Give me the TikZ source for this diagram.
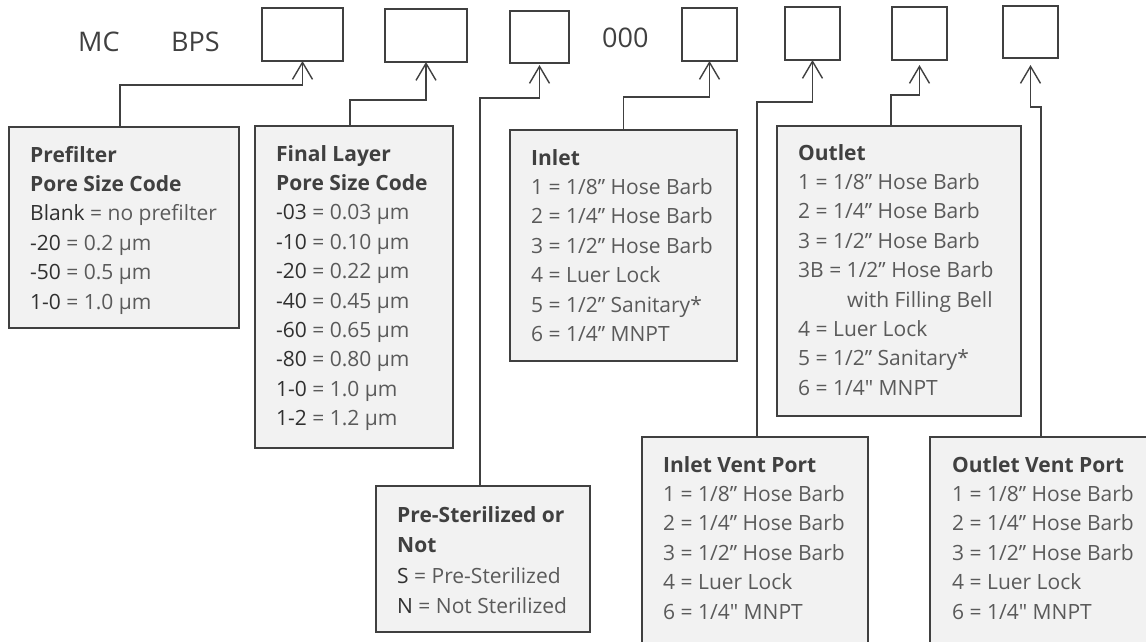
\documentclass[tikz,border=0pt]{standalone}
\usepackage{fontspec}
\setmainfont{Open Sans}
\usetikzlibrary{arrows.meta}
\definecolor{boxline}{HTML}{404040}
\definecolor{boxfill}{HTML}{F2F2F2}
\definecolor{bodygray}{HTML}{5A5A5A}
\definecolor{codegray}{HTML}{303030}
\definecolor{titlegray}{HTML}{404040}
\newcommand\codepart[1]{\textcolor{codegray}{#1}}
\newcommand\boxtitle[1]{\textcolor{titlegray}{\textbf{#1}}}
\newcommand\inch{{\addfontfeatures{Ligatures=TeXOff}"}}

\begin{document}
\begin{tikzpicture}[x=1pt,y=-1pt,
		slot/.style={draw=boxline,line width=2pt,fill=white,inner sep=0pt,outer sep=0pt,anchor=north west},
		descbox/.style={draw=boxline,line width=2pt,fill=boxfill,inner sep=0pt,outer sep=0pt,anchor=north west},
		desctext/.style={anchor=base west,inner sep=0pt,text=bodygray,font=\fontsize{21}{29.4}\selectfont},
		head/.style={anchor=base west,inner sep=0pt,text=titlegray,font=\fontsize{27}{30}\selectfont},
		link/.style={draw=boxline,line width=1.4pt,-{Straight Barb[length=17pt,width=20pt]}}]
			\useasboundingbox (0,0) rectangle (1146,641);
			%%%%% PART NUMBER %%%%%
			\node[head] (mc) at (78,51) {MC};
			\node[head] (bps) at (171,51) {BPS};
			\node[head] (zeros) at (602,47) {000};
			
			\node[slot,minimum width=81pt,minimum height=53pt] (prefilterslot) at (262,8) {};
			\node[slot,minimum width=82pt,minimum height=53pt] (finalslot) at (385,9) {};
			\node[slot,minimum width=59pt,minimum height=52pt] (sterslot) at (510,11) {};
			\node[slot,minimum width=55pt,minimum height=53pt] (inletslot) at (682,8) {};
			\node[slot,minimum width=55pt,minimum height=53pt] (ventinslot) at (785,7) {};
			\node[slot,minimum width=55pt,minimum height=53pt] (outletslot) at (892,7) {};
			\node[slot,minimum width=55pt,minimum height=52pt] (ventoutslot) at (1003,6) {};
			
			%%%%% CODE BOXES %%%%%
			\node[descbox,minimum width=230pt,minimum height=201pt] (prefilter) at (9,127) {};
			\node[desctext] (prefiltertext) at ([shift={(21,35)}]prefilter.north west) {\begin{tabular}[t]{@{}l@{}}
				\boxtitle{Prefilter}\\
				\boxtitle{Pore Size Code}\\
				\codepart{Blank} = no prefilter\\
				\codepart{-20} = 0.2 µm\\
				\codepart{-50} = 0.5 µm\\
				\codepart{1-0} = 1.0 µm
			\end{tabular}};
			
			\node[descbox,minimum width=198pt,minimum height=322pt] (final) at (255,126) {};
			\node[desctext] (finaltext) at ([shift={(21,35)}]final.north west) {\begin{tabular}[t]{@{}l@{}}
				\boxtitle{Final Layer}\\
				\boxtitle{Pore Size Code}\\
				\codepart{-03} = 0.03 µm\\
				\codepart{-10} = 0.10 µm\\
				\codepart{-20} = 0.22 µm\\
				\codepart{-40} = 0.45 µm\\
				\codepart{-60} = 0.65 µm\\
				\codepart{-80} = 0.80 µm\\
				\codepart{1-0} = 1.0 µm\\
				\codepart{1-2} = 1.2 µm
			\end{tabular}};
			
			\node[descbox,minimum width=214pt,minimum height=146pt] (ster) at (376,486) {};
			\node[desctext,font=\fontsize{21}{30.5}\selectfont] (stertext) at ([shift={(21,36)}]ster.north west) {\begin{tabular}[t]{@{}l@{}}
				\boxtitle{Pre-Sterilized or}\\
				\boxtitle{Not}\\
				\codepart{S} = Pre-Sterilized\\
				\codepart{N} = Not Sterilized
			\end{tabular}};
			
			\node[descbox,minimum width=227pt,minimum height=231pt] (inlet) at (510,130) {};
			\node[desctext] (inlettext) at ([shift={(21,35)}]inlet.north west) {\begin{tabular}[t]{@{}l@{}}
				\boxtitle{Inlet}\\
				1 = 1/8” Hose Barb\\
				2 = 1/4” Hose Barb\\
				3 = 1/2” Hose Barb\\
				4 = Luer Lock\\
				5 = 1/2” Sanitary*\\
				6 = 1/4” MNPT
			\end{tabular}};
			
			\node[descbox,minimum width=244pt,minimum height=290pt] (outlet) at (777,126) {};
			\node[desctext] (outlettext) at ([shift={(21,34)}]outlet.north west) {\begin{tabular}[t]{@{}l@{}}
				\boxtitle{Outlet}\\
				1 = 1/8” Hose Barb\\
				2 = 1/4” Hose Barb\\
				3 = 1/2” Hose Barb\\
				3B = 1/2” Hose Barb\\
				\hspace*{49pt}with Filling Bell\\
				4 = Luer Lock\\
				5 = 1/2” Sanitary*\\
				6 = 1/4\inch{} MNPT
			\end{tabular}};
			
			\node[descbox,minimum width=226pt,minimum height=240pt] (ventin) at (642,437) {};
			\node[desctext] (ventintext) at ([shift={(21,35)}]ventin.north west) {\begin{tabular}[t]{@{}l@{}}
				\boxtitle{Inlet Vent Port}\\
				1 = 1/8” Hose Barb\\
				2 = 1/4” Hose Barb\\
				3 = 1/2” Hose Barb\\
				4 = Luer Lock\\
				6 = 1/4\inch{} MNPT
			\end{tabular}};
			
			\node[descbox,minimum width=222pt,minimum height=240pt] (ventout) at (930,437) {};
			\node[desctext] (ventouttext) at ([shift={(22,35)}]ventout.north west) {\begin{tabular}[t]{@{}l@{}}
				\boxtitle{Outlet Vent Port}\\
				1 = 1/8” Hose Barb\\
				2 = 1/4” Hose Barb\\
				3 = 1/2” Hose Barb\\
				4 = Luer Lock\\
				6 = 1/4\inch{} MNPT
			\end{tabular}};
			
			%%%%% LINKS %%%%%
			\coordinate (prefilterin) at ([xshift=-4pt]prefilter.north);
			\coordinate (finalin) at ([xshift=-4pt]final.north);
			\coordinate (sterin) at ([xshift=-3pt]ster.north);
			\coordinate (ventinin) at ([xshift=2pt]ventin.north);
			\coordinate (outletin) at ([xshift=-8pt]outlet.north);
			
			\draw[link] (prefilterin) -- (prefilterin |- 0,85) -| (prefilterslot.south);
			\draw[link] (finalin) -- (finalin |- 0,100) -| (finalslot.south);
			\draw[link] (sterin) -- (sterin |- 0,98) -| ([yshift=-2pt]sterslot.south);
			\draw[link] (inlet.north) -- (inlet.north |- 0,97) -| (inletslot.south);
			\draw[link] (ventinin) -- (ventinin |- 0,102) -| (ventinslot.south);
			\draw[link] (outletin) -- (outletin |- 0,95) -| ([yshift=-5pt]outletslot.south);
			\draw[link] (ventout.north) -- (ventout.north |- 0,107) -| ([yshift=-7pt]ventoutslot.south);
			%%%%% END %%%%%
		\end{tikzpicture}
\end{document}
